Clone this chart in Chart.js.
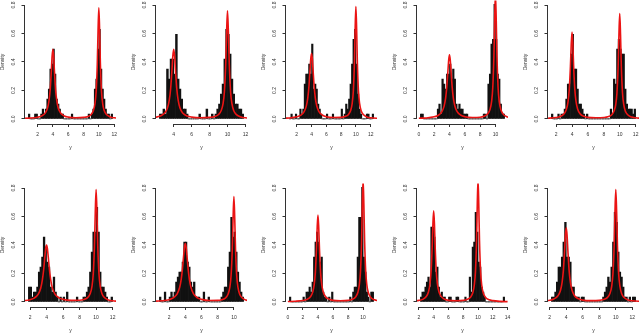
<!DOCTYPE html>
<html><head><meta charset="utf-8">
<script src="https://cdn.jsdelivr.net/npm/chart.js@4"></script>
<style>
html,body{margin:0;padding:0;background:#fff;width:640px;height:334px;overflow:hidden;position:relative}
canvas{position:absolute}
</style></head><body>
<script>
// ---------- DATA ----------
const BIN_WIDTH = 0.2;
const xTickStep = 2;
const yTickLabels = ['0.0','0.2','0.4','0.6','0.8'];

// shared x grid of the fitted density curves
const curveX = [0,1,2,2.5,3,3.3,3.5,3.65,3.8,3.9,4,4.1,4.2,4.35,4.5,4.7,5,5.5,6,7,8,8.5,9,9.3,9.5,9.65,9.8,9.9,10,10.1,10.2,10.35,10.5,10.7,11,11.5,12,13,14];

const p1Start = 0.8;
const p1Hist = [.035,0,0,0,.035,.035,0,0,.035,.07,.035,.07,.14,.21,.35,.385,.49,.315,.14,.105,.07,.035,.035,0,0,0,0,0,.035,0,0,0,0,0,0,0,0,0,0,.035,0,.035,.07,.21,.28,.49,.63,.35,.21,.14,.07,.035,.035,0,.035];
const p1Curve = [0.004,0.006,0.012,0.020,0.041,0.076,0.130,0.207,0.339,0.441,0.490,0.441,0.339,0.207,0.131,0.077,0.042,0.021,0.013,0.008,0.011,0.016,0.032,0.061,0.109,0.193,0.390,0.624,0.780,0.624,0.390,0.192,0.108,0.059,0.031,0.014,0.008,0.004,0.002];

const p2Start = 2.4;
const p2Hist = [.035,.035,.07,.035,.35,.28,.42,.42,.315,.595,.28,.21,.14,.07,.07,.035,0,0,0,0,0,0,.035,0,0,0,.07,0,0,.035,0,.035,.07,.105,.175,.245,.42,.63,.595,.455,.28,.175,.105,.105,.07,.07,.035];
const p2Curve = [0.004,0.006,0.012,0.020,0.041,0.076,0.130,0.207,0.339,0.441,0.490,0.441,0.339,0.207,0.131,0.077,0.042,0.021,0.013,0.008,0.011,0.016,0.031,0.059,0.106,0.188,0.380,0.608,0.760,0.608,0.380,0.187,0.105,0.057,0.030,0.014,0.008,0.004,0.002];

const p3Start = 1.0;
const p3Hist = [0,.035,0,0,.035,0,0,.07,.035,.07,.245,.315,.315,.385,.315,.525,.21,.245,.21,.105,.07,.035,0,0,0,.035,0,0,0,.035,0,0,0,0,0,.07,0,.035,.105,.07,.14,.245,.385,.56,.63,.385,.175,.07,.035,0,0,0,.035,.035,0,0,.035];
const p3Curve = [0.005,0.007,0.015,0.025,0.051,0.092,0.151,0.230,0.347,0.426,0.460,0.426,0.347,0.230,0.152,0.093,0.052,0.026,0.016,0.010,0.011,0.017,0.032,0.061,0.110,0.195,0.395,0.632,0.790,0.632,0.395,0.194,0.109,0.060,0.031,0.014,0.008,0.004,0.002];

const p4Start = 0.2;
const p4Hist = [.035,.035,0,0,0,0,0,0,0,0,0,.07,.105,.035,.28,.245,.21,.315,.315,.385,.28,.35,.28,.105,.07,.105,.07,.07,.035,.035,.035,0,0,0,0,0,0,0,0,0,0,.035,.035,0,.245,.315,.525,.56,.805,.56,.315,.28,.105,.035,.035];
const p4Curve = [0.005,0.007,0.015,0.024,0.050,0.090,0.148,0.225,0.339,0.416,0.450,0.416,0.339,0.225,0.149,0.091,0.051,0.026,0.016,0.010,0.012,0.019,0.036,0.068,0.123,0.218,0.440,0.704,0.880,0.704,0.440,0.216,0.121,0.066,0.034,0.015,0.009,0.004,0.002];

const p5Start = 1.4;
const p5Hist = [.035,0,0,0,.035,0,.035,.035,.07,.14,.245,.245,.455,.595,.35,.35,.21,.105,.105,.07,.035,0,.035,0,0,0,0,0,0,0,0,0,0,0,0,0,0,.07,.035,.28,.245,.49,.56,.49,.455,.455,.21,.105,.07,.07,.07,.035,.07];
const p5Curve = [0.003,0.005,0.010,0.017,0.036,0.069,0.122,0.206,0.372,0.526,0.610,0.526,0.372,0.206,0.123,0.070,0.037,0.019,0.011,0.008,0.010,0.015,0.030,0.057,0.103,0.183,0.370,0.592,0.740,0.592,0.370,0.182,0.102,0.056,0.029,0.013,0.008,0.004,0.002];

const p6Start = 1.8;
const p6Hist = [.105,.105,.035,.07,.07,.105,.21,.245,.315,.455,.385,.28,.245,.105,.07,.175,.07,.035,0,.035,0,.035,0,.07,0,0,0,0,0,.035,0,0,0,.035,.035,.07,.105,.21,.35,.49,.49,.665,.49,.21,.105,.105,.07,.035,0,0,.035];
const p6Curve = [0.005,0.008,0.016,0.027,0.055,0.098,0.156,0.226,0.320,0.376,0.400,0.376,0.320,0.226,0.157,0.099,0.057,0.029,0.018,0.011,0.012,0.017,0.032,0.061,0.110,0.195,0.395,0.632,0.790,0.632,0.395,0.194,0.109,0.060,0.031,0.014,0.008,0.004,0.002];

const p7Start = 0.8;
const p7Hist = [.035,0,0,.07,0,0,.035,.07,.035,.07,.14,.175,.21,.21,.28,.42,.42,.28,.245,.14,.105,.14,.035,.035,.035,0,0,.07,0,0,.035,0,0,0,0,0,0,0,.035,.07,.105,.105,.245,.35,.595,.455,.49,.35,.21,.14,.07,.035];
const p7Curve = [0.005,0.008,0.016,0.028,0.057,0.101,0.160,0.232,0.328,0.386,0.410,0.386,0.328,0.232,0.161,0.102,0.058,0.029,0.018,0.010,0.011,0.016,0.030,0.058,0.104,0.184,0.370,0.592,0.740,0.592,0.370,0.182,0.102,0.056,0.029,0.013,0.008,0.004,0.002];

const p8Start = 0.2;
const p8Hist = [.035,0,0,0,0,0,0,0,0,.035,0,.07,.07,.105,.07,.14,.315,.42,.49,.42,.28,.315,.07,.035,.035,0,.035,0,.07,0,0,0,0,0,0,0,0,0,0,0,.035,0,.07,.105,.105,.315,.595,.595,.805,.315,.21,.07,.035,0,.07,.07];
const p8Curve = [0.003,0.005,0.010,0.017,0.036,0.069,0.122,0.206,0.372,0.526,0.610,0.526,0.372,0.206,0.123,0.070,0.037,0.019,0.011,0.008,0.011,0.017,0.035,0.066,0.120,0.213,0.430,0.688,0.860,0.688,0.430,0.212,0.119,0.065,0.033,0.015,0.009,0.004,0.002];

const p9Start = 2.2;
const p9Hist = [.035,.07,.07,.105,.14,.175,.105,.525,.525,.455,.21,.245,.105,.035,.07,.035,.035,0,0,.035,.035,0,0,0,.035,.035,0,0,0,0,.035,0,0,.175,.07,.385,.42,.63,.49,.28,.245,.105,.07,.035,0,0,0,0,0,0,0,0,0,0,0,0,.035];
const p9Curve = [0.003,0.005,0.011,0.018,0.038,0.072,0.128,0.216,0.390,0.552,0.640,0.552,0.390,0.216,0.129,0.073,0.039,0.019,0.011,0.008,0.011,0.017,0.035,0.066,0.120,0.213,0.430,0.688,0.860,0.688,0.430,0.212,0.119,0.065,0.033,0.015,0.009,0.004,0.002];

const p10Start = 2.2;
const p10Hist = [.035,.035,.07,.14,.245,.245,.315,.42,.56,.315,.315,.28,.105,.105,.035,.035,.035,0,.035,.035,0,0,0,0,0,0,0,0,0,0,0,.035,.07,.105,.175,.14,.245,.42,.63,.56,.35,.21,.175,.105,.035,.035,0,.035,0,.035,.035];
const p10Curve = [0.004,0.006,0.012,0.021,0.044,0.081,0.138,0.220,0.360,0.468,0.520,0.468,0.360,0.220,0.139,0.082,0.044,0.022,0.013,0.009,0.011,0.017,0.032,0.061,0.110,0.195,0.395,0.632,0.790,0.632,0.395,0.194,0.109,0.060,0.031,0.014,0.008,0.004,0.002];

const panelStarts = [p1Start,p2Start,p3Start,p4Start,p5Start,p6Start,p7Start,p8Start,p9Start,p10Start];
const panelHists  = [p1Hist,p2Hist,p3Hist,p4Hist,p5Hist,p6Hist,p7Hist,p8Hist,p9Hist,p10Hist];
const panelCurves = [p1Curve,p2Curve,p3Curve,p4Curve,p5Curve,p6Curve,p7Curve,p8Curve,p9Curve,p10Curve];

// ---------- LAYOUT ----------
const FONT = "'Liberation Sans', Arial, Helvetica, sans-serif";
const TEXT = '#333';
const colLeft = [0,131,261,392,523];
const rowTop = [-30,153];
const CW = 131, CH = 184;

Chart.defaults.font.family = FONT;

const rAxes = {
  id: 'rAxes',
  afterDraw(chart) {
    const {ctx, chartArea, scales: {x, y}} = chart;
    ctx.save();
    ctx.strokeStyle = '#333';
    ctx.lineWidth = 1;
    ctx.beginPath();
    const xt = x.ticks, yt = y.ticks;
    const yb = Math.round(chartArea.bottom) + 0.5;
    ctx.moveTo(x.getPixelForValue(xt[0].value), yb);
    ctx.lineTo(x.getPixelForValue(xt[xt.length-1].value), yb);
    const xl = Math.round(chartArea.left) - 0.5;
    ctx.moveTo(xl, y.getPixelForValue(yt[0].value));
    ctx.lineTo(xl, y.getPixelForValue(yt[yt.length-1].value));
    ctx.stroke();
    ctx.restore();
  }
};

for (let k = 0; k < 10; k++) {
  const row = Math.floor(k / 5), col = k % 5;
  const cv = document.createElement('canvas');
  cv.width = CW; cv.height = CH;
  cv.style.left = colLeft[col] + 'px';
  cv.style.top = rowTop[row] + 'px';
  cv.style.width = CW + 'px'; cv.style.height = CH + 'px';
  document.body.appendChild(cv);

  const start = panelStarts[k], hist = panelHists[k], curve = panelCurves[k];
  const end = start + hist.length * BIN_WIDTH;
  const ext = 0.04 * (end - start);

  new Chart(cv, {
    type: 'bar',
    data: {
      datasets: [
        {
          type: 'line',
          data: curveX.map((xv, i) => ({x: xv, y: curve[i]})),
          borderColor: 'rgb(235,20,20)',
          borderWidth: 1.6,
          pointRadius: 0,
          cubicInterpolationMode: 'monotone',
          fill: false,
          order: 0
        },
        {
          type: 'bar',
          data: hist.map((v, i) => ({x: start + (i + 0.5) * BIN_WIDTH, y: v})),
          backgroundColor: '#111',
          borderWidth: 0,
          barPercentage: 1,
          categoryPercentage: 1,
          grouped: false,
          order: 1
        }
      ]
    },
    options: {
      responsive: false,
      animation: false,
      devicePixelRatio: 1,
      layout: {padding: {top: 30.5, right: 15, bottom: 0, left: 0}},
      plugins: {legend: {display: false}, tooltip: {enabled: false}},
      scales: {
        x: {
          type: 'linear',
          min: start - ext, max: end + ext,
          offset: false,
          grid: {drawOnChartArea: false, drawTicks: true, tickLength: 3.5, color: '#333', offset: false},
          border: {display: false},
          ticks: {stepSize: xTickStep, includeBounds: false, autoSkip: false, maxRotation: 0, minRotation: 0,
                  padding: 5, color: TEXT, font: {family: FONT, size: 5}},
          title: {display: true, text: 'y', color: TEXT, font: {family: FONT, size: 5}, padding: {top: 0, bottom: 3}},
          afterFit(s) { s.height = CH - 153.5; }
        },
        y: {
          type: 'linear',
          min: -0.032, max: 0.832,
          grid: {drawOnChartArea: false, drawTicks: true, tickLength: 3.5, color: '#333'},
          border: {display: false},
          ticks: {stepSize: 0.2, includeBounds: false, minRotation: 90, maxRotation: 90, crossAlign: 'center',
                  padding: 4, color: TEXT, font: {family: FONT, size: 5},
                  callback: (v) => { const i = Math.round(v / 0.2); return yTickLabels[i]; }},
          title: {display: true, text: 'Density', color: TEXT, font: {family: FONT, size: 5}, padding: {top: 0, bottom: 0}},
          afterFit(s) { s.width = 25; }
        }
      }
    },
    plugins: [rAxes]
  });
}
</script>
</body></html>
